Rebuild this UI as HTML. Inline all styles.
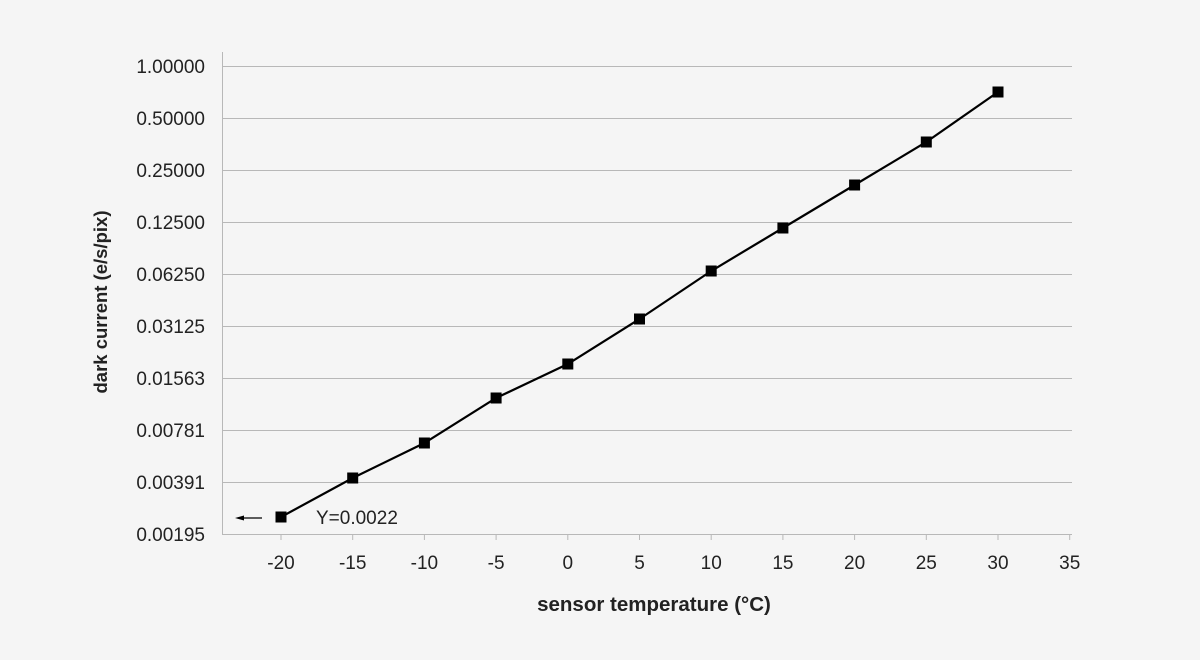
<!DOCTYPE html>
<html><head><meta charset="utf-8"><style>
html,body{margin:0;padding:0;background:#f5f5f5;}
svg{display:block;font-family:"Liberation Sans",sans-serif;}
</style></head><body>
<svg width="1200" height="660" viewBox="0 0 1200 660" xmlns="http://www.w3.org/2000/svg">
<rect width="1200" height="660" fill="#f5f5f5"/>
<g stroke="#b8b8b8" stroke-width="1">
<line x1="222" y1="66.5" x2="1072" y2="66.5"/>
<line x1="222" y1="118.5" x2="1072" y2="118.5"/>
<line x1="222" y1="170.5" x2="1072" y2="170.5"/>
<line x1="222" y1="222.5" x2="1072" y2="222.5"/>
<line x1="222" y1="274.5" x2="1072" y2="274.5"/>
<line x1="222" y1="326.5" x2="1072" y2="326.5"/>
<line x1="222" y1="378.5" x2="1072" y2="378.5"/>
<line x1="222" y1="430.5" x2="1072" y2="430.5"/>
<line x1="222" y1="482.5" x2="1072" y2="482.5"/>
<line x1="222.5" y1="52" x2="222.5" y2="535"/>
<line x1="222" y1="534.5" x2="1072" y2="534.5"/>
<g>
<line x1="281" y1="535" x2="281" y2="540"/><line x1="352.7" y1="535" x2="352.7" y2="540"/>
<line x1="424.4" y1="535" x2="424.4" y2="540"/><line x1="496.1" y1="535" x2="496.1" y2="540"/>
<line x1="567.8" y1="535" x2="567.8" y2="540"/><line x1="639.5" y1="535" x2="639.5" y2="540"/>
<line x1="711.2" y1="535" x2="711.2" y2="540"/><line x1="782.9" y1="535" x2="782.9" y2="540"/>
<line x1="854.6" y1="535" x2="854.6" y2="540"/><line x1="926.3" y1="535" x2="926.3" y2="540"/>
<line x1="998" y1="535" x2="998" y2="540"/><line x1="1069.7" y1="535" x2="1069.7" y2="540"/>
</g></g>
<g font-size="19" fill="#222" text-anchor="end">
<text x="205" y="73">1.00000</text><text x="205" y="125">0.50000</text>
<text x="205" y="177">0.25000</text><text x="205" y="229">0.12500</text>
<text x="205" y="281">0.06250</text><text x="205" y="333">0.03125</text>
<text x="205" y="385">0.01563</text><text x="205" y="437">0.00781</text>
<text x="205" y="489">0.00391</text><text x="205" y="541">0.00195</text>
</g>
<g font-size="19" fill="#222" text-anchor="middle">
<text x="281" y="569">-20</text><text x="352.7" y="569">-15</text><text x="424.4" y="569">-10</text>
<text x="496.1" y="569">-5</text><text x="567.8" y="569">0</text><text x="639.5" y="569">5</text>
<text x="711.2" y="569">10</text><text x="782.9" y="569">15</text><text x="854.6" y="569">20</text>
<text x="926.3" y="569">25</text><text x="998" y="569">30</text><text x="1069.7" y="569">35</text>
<text x="654" y="611" font-weight="bold" font-size="20.5">sensor temperature (°C)</text>
<text transform="translate(107,302) rotate(-90)" font-weight="bold" font-size="18.5">dark current  (e/s/pix)</text>
</g>
<polyline fill="none" stroke="#000" stroke-width="2.2" points="281,517 352.7,478 424.4,443 496.1,398 567.8,364 639.5,319 711.2,271 782.9,228 854.6,185 926.3,142 998,92"/>
<g fill="#000">
<rect x="275.5" y="511.5" width="11" height="11"/><rect x="347.2" y="472.5" width="11" height="11"/>
<rect x="418.9" y="437.5" width="11" height="11"/><rect x="490.6" y="392.5" width="11" height="11"/>
<rect x="562.3" y="358.5" width="11" height="11"/><rect x="634" y="313.5" width="11" height="11"/>
<rect x="705.7" y="265.5" width="11" height="11"/><rect x="777.4" y="222.5" width="11" height="11"/>
<rect x="849.1" y="179.5" width="11" height="11"/><rect x="920.8" y="136.5" width="11" height="11"/>
<rect x="992.5" y="86.5" width="11" height="11"/>
</g>
<line x1="242" y1="518" x2="262" y2="518" stroke="#000" stroke-width="1.2"/>
<polygon points="235,518 244,515.5 244,520.5" fill="#000"/>
<text x="316" y="524" font-size="19" fill="#222">Y=0.0022</text>
</svg>
</body></html>
